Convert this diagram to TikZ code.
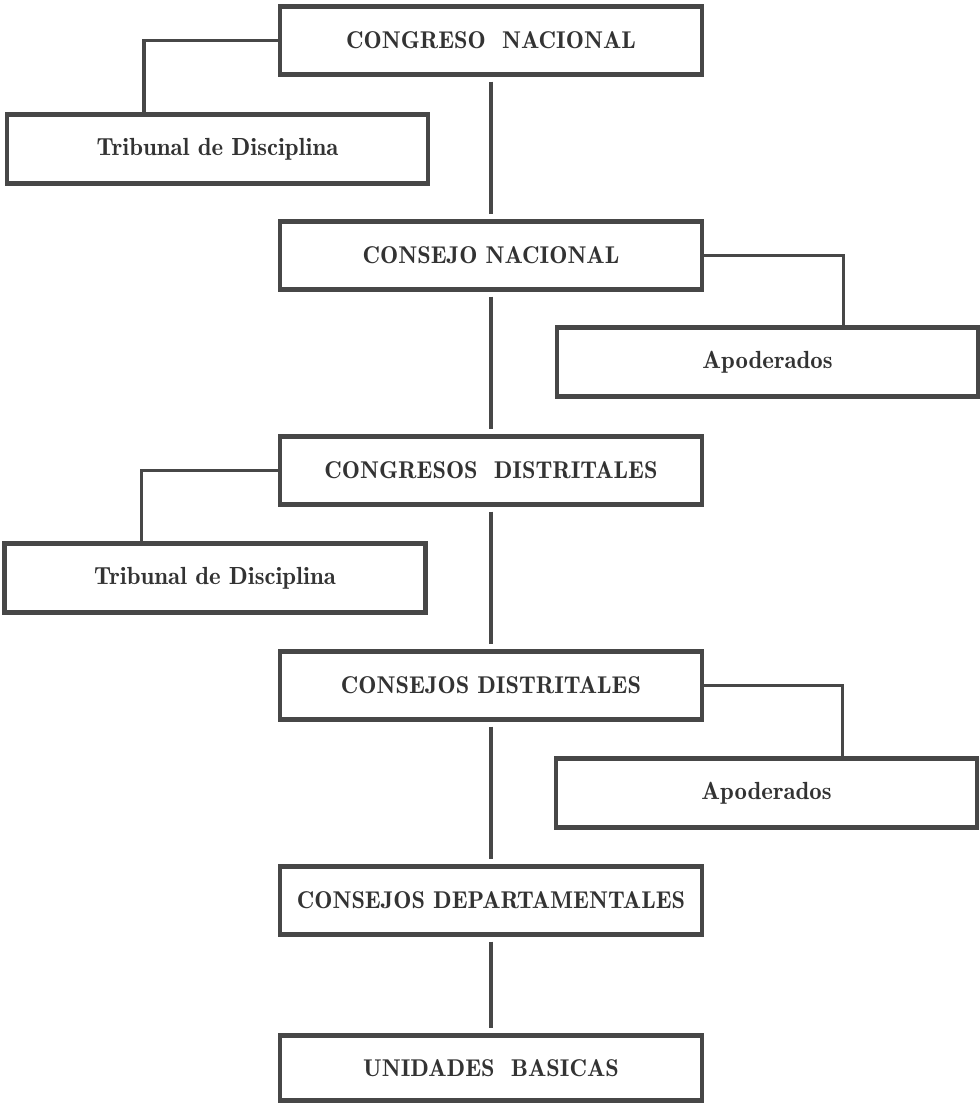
\documentclass[tikz,border=0pt]{standalone}
\usepackage{fontspec}
\usepackage{tikz}
\usetikzlibrary{positioning,calc}
\newfontfamily\organofont{Latin Modern Roman Demi}
\pgfkeys{tikz/organo/.style={draw=black!72,line width=2.3pt,fill=white,minimum width=8.44cm,minimum height=1.36cm,inner sep=0pt,outer sep=0pt,text=black!80,font=\organofont\fontsize{13.8}{17}\selectfont}}
\pgfkeys{tikz/anexo/.style={organo,minimum width=8.42cm,minimum height=1.38cm,font=\organofont\fontsize{14.1}{17}\selectfont}}
\pgfkeys{tikz/enlace/.style={draw=black!72,line width=2pt}}

\begin{document}
\begin{tikzpicture}[node distance = 2.94cm]
  \useasboundingbox (-9.82,0.81) rectangle (9.78,-21.29);
  \node[organo] (congreso) {CONGRESO\ \ NACIONAL};
  \node[anexo,below=0.8cm of congreso,xshift=-5.47cm] (tribunalA) {Tribunal de Disciplina};
  \node[organo,below=of congreso] (consejo) {CONSEJO NACIONAL};
  \node[anexo,below=0.76cm of consejo,xshift=5.53cm] (apoderadosA) {Apoderados};
  \node[organo,below=of consejo] (congresosD) {CONGRESOS\ \ DISTRITALES};
  \node[anexo,below=0.78cm of congresosD,xshift=-5.52cm] (tribunalB) {Tribunal de Disciplina};
  \node[organo,below=of congresosD] (consejosD) {CONSEJOS DISTRITALES};
  \node[anexo,below=0.78cm of consejosD,xshift=5.51cm] (apoderadosB) {Apoderados};
  \node[organo,below=of consejosD] (departam) {CONSEJOS DEPARTAMENTALES};
  \node[organo,below=2.02cm of departam,minimum height=1.3cm] (unidades) {UNIDADES\ \ BASICAS};

  \coordinate (tA) at ($(tribunalA.north west)!0.325!(tribunalA.north east)$);
  \coordinate (tB) at ($(tribunalB.north west)!0.325!(tribunalB.north east)$);
  \coordinate (aA) at ($(apoderadosA.north west)!0.68!(apoderadosA.north east)$);
  \coordinate (aB) at ($(apoderadosB.north west)!0.68!(apoderadosB.north east)$);

  \draw[enlace] (congreso.west) -| (tA);
  \draw[enlace] (consejo.east) -| (aA);
  \draw[enlace] (congresosD.west) -| (tB);
  \draw[enlace] (consejosD.east) -| (aB);

  \draw[enlace,shorten <=4pt,shorten >=4pt] (congreso) -- (consejo);
  \draw[enlace,shorten <=4pt,shorten >=4pt] (consejo) -- (congresosD);
  \draw[enlace,shorten <=4pt,shorten >=4pt] (congresosD) -- (consejosD);
  \draw[enlace,shorten <=4pt,shorten >=4pt] (consejosD) -- (departam);
  \draw[enlace,shorten <=4pt,shorten >=4pt] (departam) -- (unidades);
\end{tikzpicture}
\end{document}
